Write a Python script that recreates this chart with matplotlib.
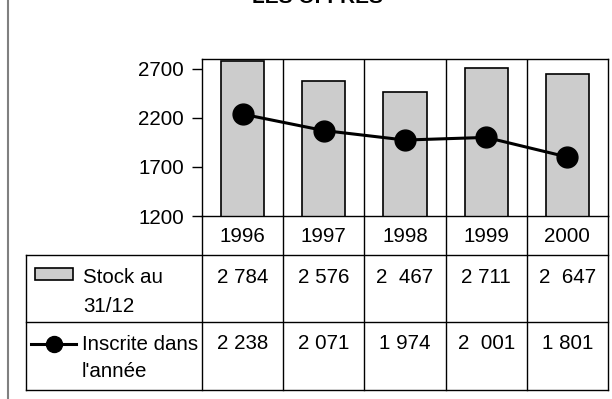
import numpy as np
import matplotlib
matplotlib.use("Agg")
import matplotlib.pyplot as plt
from matplotlib.lines import Line2D
from matplotlib.patches import Rectangle

plt.rcParams['font.family'] = ['Liberation Sans', 'DejaVu Sans']

years = ["1996", "1997", "1998", "1999", "2000"]
stock = [2784, 2576, 2467, 2711, 2647]
inscrites = [2238, 2071, 1974, 2001, 1801]
stock_labels = ["2 784", "2 576", "2  467", "2 711", "2  647"]
inscrites_labels = ["2 238", "2 071", "1 974", "2  001", "1 801"]
row_names = [["Stock au", "31/12"], ["Inscrite dans", "l'année"]]
yticks = [1200, 1700, 2200, 2700]

W, H = 612, 399
FS = 14.8


def fx(px):
    return px / W


def fy(py):
    return 1 - py / H


fig = plt.figure(figsize=(W / 100, H / 100), dpi=100)

# chart area, one column per year
left, right, top, bottom = 202, 608, 59, 216
ax = fig.add_axes([fx(left), fy(bottom), fx(right - left), (bottom - top) / H])
x = np.arange(len(years))
ax.bar(x, stock, width=0.53, color="#cccccc", edgecolor="black", linewidth=1.2, zorder=2)
ax.plot(x, inscrites, color="black", linewidth=2.2, marker="o", markersize=15, zorder=3)
ax.set_xlim(-0.5, len(years) - 0.5)
ax.set_ylim(1200, 2800)
for b in x[:-1] + 0.5:
    ax.axvline(b, color="black", linewidth=1, zorder=1)
ax.set_xticks([])
ax.set_yticks(yticks)
ax.tick_params(axis="y", direction="out", length=7, width=1, labelsize=FS, pad=6)
for s in ax.spines.values():
    s.set_linewidth(1)

# data table under the chart
col_w = (right - left) / len(years)
bounds = [left + i * col_w for i in range(len(years) + 1)]
row_y = [bottom, 255, 322, 390]
tbl_left = 26


def hline(x0, x1, y, **kw):
    fig.add_artist(Line2D([fx(x0), fx(x1)], [fy(y), fy(y)], transform=fig.transFigure,
                          color="black", linewidth=1, **kw))


def vline(xp, y0, y1, **kw):
    fig.add_artist(Line2D([fx(xp), fx(xp)], [fy(y0), fy(y1)], transform=fig.transFigure,
                          color="black", linewidth=1, **kw))


for yy in row_y[1:]:
    hline(tbl_left, right, yy)
vline(tbl_left, row_y[1], row_y[3])
for b in bounds:
    vline(b, bottom, row_y[3])

centers = [(bounds[i] + bounds[i + 1]) / 2 for i in range(len(years))]
for c, yr in zip(centers, years):
    fig.text(fx(c), fy(242), yr, ha="center", va="baseline", fontsize=FS)
for c, s in zip(centers, stock_labels):
    fig.text(fx(c), fy(283), s, ha="center", va="baseline", fontsize=FS)
for c, s in zip(centers, inscrites_labels):
    fig.text(fx(c), fy(349), s, ha="center", va="baseline", fontsize=FS)

# row headers with legend keys
fig.text(fx(83), fy(283), row_names[0][0], ha="left", va="baseline", fontsize=FS)
fig.text(fx(83), fy(312), row_names[0][1], ha="left", va="baseline", fontsize=FS)
fig.text(fx(82), fy(350), row_names[1][0], ha="left", va="baseline", fontsize=FS)
fig.text(fx(82), fy(377), row_names[1][1], ha="left", va="baseline", fontsize=FS)
fig.add_artist(Rectangle((fx(35), fy(280)), fx(38), (280 - 268) / H, transform=fig.transFigure,
                         facecolor="#cccccc", edgecolor="black", linewidth=1.2))
fig.add_artist(Line2D([fx(31), fx(76)], [fy(344), fy(344)], transform=fig.transFigure,
                      color="black", linewidth=2.2))
fig.add_artist(Line2D([fx(54)], [fy(344)], transform=fig.transFigure, color="black",
                      marker="o", markersize=11.5))

# left frame edge
fig.add_artist(Line2D([fx(8), fx(8)], [0, 1], transform=fig.transFigure, color="#808080", linewidth=1.5))

fig.text(fx(318), fy(3), "LES OFFRES", ha="center", va="baseline", fontsize=15, fontweight="bold")

fig.savefig("out.png", dpi=100)
